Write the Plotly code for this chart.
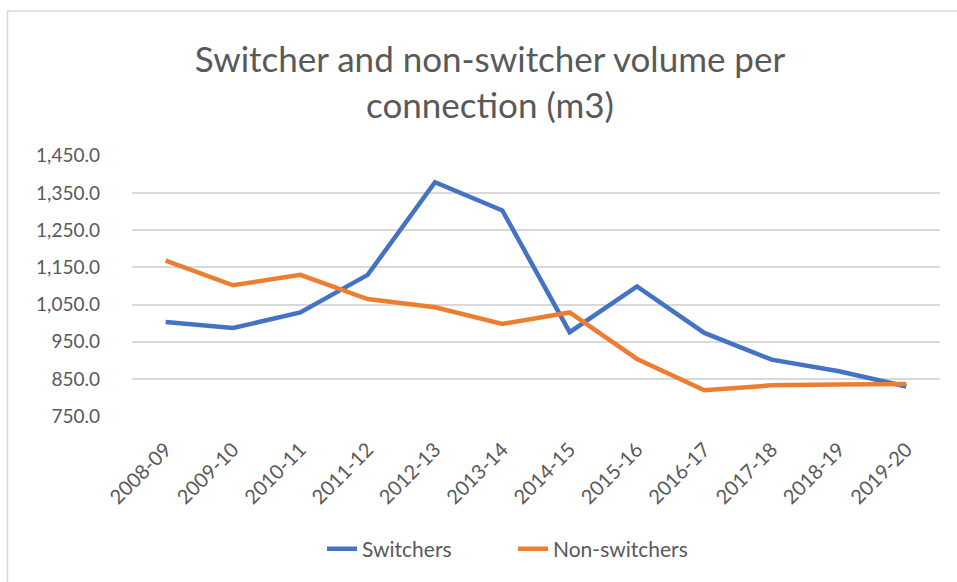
import plotly.graph_objects as go

# Données
years = ['2008-09', '2009-10', '2010-11', '2011-12', '2012-13', '2013-14',
         '2014-15', '2015-16', '2016-17', '2017-18', '2018-19', '2019-20']
switchers = [1003, 987, 1029, 1130, 1379, 1303, 976, 1099, 974, 902, 871, 830]
non_switchers = [1168, 1102, 1130, 1065, 1043, 998, 1029, 904, 820, 833, 835, 837]
y_ticks = [750, 850, 950, 1050, 1150, 1250, 1350, 1450]

W, H = 957, 582
L, R, T, B = 132, 17, 155, 165
plot_w = W - L - R
plot_h = H - T - B
txt = '#595959'


def px_x(px):
    return (px - L) / plot_w


def px_y(py):
    return (H - B - py) / plot_h


fig = go.Figure()
fig.add_trace(go.Scatter(x=years, y=switchers, mode='lines', name='Switchers',
                         line=dict(color='#4472C4', width=4.5)))
fig.add_trace(go.Scatter(x=years, y=non_switchers, mode='lines', name='Non-switchers',
                         line=dict(color='#ED7D31', width=4.5)))

# cadre du graphique (style Excel)
fig.add_shape(type='line', xref='paper', yref='paper',
              x0=px_x(7.5), x1=px_x(960), y0=px_y(11), y1=px_y(11),
              line=dict(color='#D9D9D9', width=1.5))
fig.add_shape(type='line', xref='paper', yref='paper',
              x0=px_x(7.5), x1=px_x(7.5), y0=px_y(11), y1=px_y(585),
              line=dict(color='#D9D9D9', width=1.5))

fig.update_layout(
    width=W, height=H,
    margin=dict(l=L, r=R, t=T, b=B),
    paper_bgcolor='white', plot_bgcolor='white',
    font=dict(family='Lato', color=txt, size=19),
    title=dict(text='Switcher and non-switcher volume per<br>connection (m3)',
               xref='container', x=490 / W, xanchor='center',
               yref='container', y=1 - 72 / H, yanchor='top',
               font=dict(size=35, color=txt, family='Lato')),
    showlegend=True,
    legend=dict(orientation='h', xanchor='left', x=px_x(322),
                yanchor='middle', y=px_y(549),
                entrywidth=146, entrywidthmode='pixels',
                font=dict(size=21, color=txt)),
    xaxis=dict(type='category', range=[-0.5, 11.5], showgrid=False,
               showline=False, ticks='', tickangle=-45, ticklabelstandoff=16,
               tickfont=dict(size=20, color=txt)),
    yaxis=dict(range=[748, 1452], tickvals=y_ticks, tickformat=',.1f',
               showgrid=True, gridcolor='#D9D9D9', gridwidth=1.5,
               zeroline=False, showline=False, ticks='', ticklabelstandoff=31,
               tickfont=dict(size=19, color=txt)),
)

# pas de marge par défaut autour de la page
fig.write_html('out.html', config={'displayModeBar': False},
               post_script="document.body.style.margin='0';")
